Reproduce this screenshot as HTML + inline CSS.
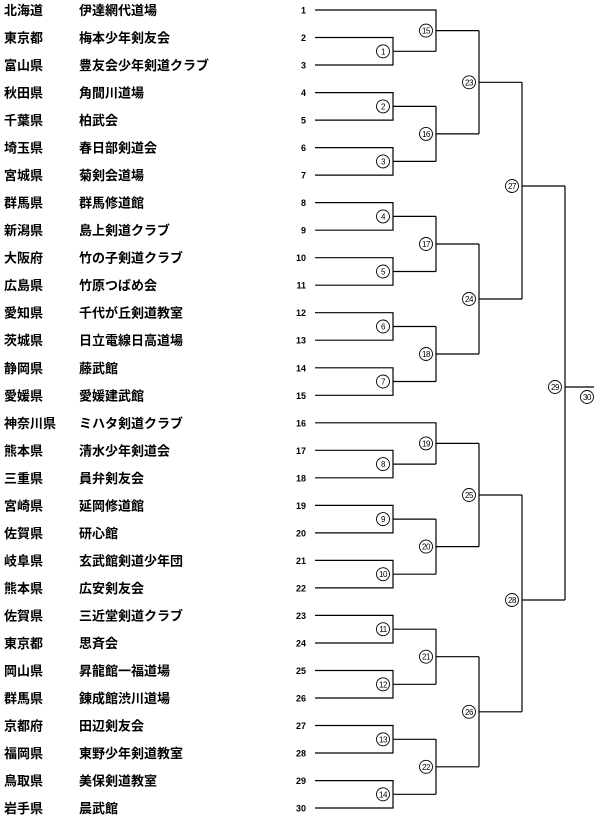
<!DOCTYPE html>
<html><head><meta charset="utf-8"><style>
html,body{margin:0;padding:0;background:#fff;}
svg{display:block;}
.t{font-family:"Liberation Sans","Noto Sans CJK JP",sans-serif;font-size:13px;font-weight:bold;fill:#000;}
.n{font-family:"Liberation Sans",sans-serif;font-size:9px;font-weight:bold;fill:#000;}
.c{font-family:"Liberation Sans",sans-serif;font-size:8px;fill:#000;letter-spacing:-0.5px;}
path{fill:none;stroke:#000;stroke-width:1.2;}
circle{fill:#fff;stroke:#000;stroke-width:0.9;}
</style></head><body>
<svg width="600" height="815" viewBox="0 0 600 815" xmlns="http://www.w3.org/2000/svg">
<g class="t">
<text x="4" y="15">北海道</text><text x="79" y="15">伊達網代道場</text>
<text x="4" y="42.5">東京都</text><text x="79" y="42.5">梅本少年剣友会</text>
<text x="4" y="70">富山県</text><text x="79" y="70">豊友会少年剣道クラブ</text>
<text x="4" y="97.6">秋田県</text><text x="79" y="97.6">角間川道場</text>
<text x="4" y="125.1">千葉県</text><text x="79" y="125.1">柏武会</text>
<text x="4" y="152.6">埼玉県</text><text x="79" y="152.6">春日部剣道会</text>
<text x="4" y="180.1">宮城県</text><text x="79" y="180.1">菊剣会道場</text>
<text x="4" y="207.6">群馬県</text><text x="79" y="207.6">群馬修道館</text>
<text x="4" y="235.2">新潟県</text><text x="79" y="235.2">島上剣道クラブ</text>
<text x="4" y="262.7">大阪府</text><text x="79" y="262.7">竹の子剣道クラブ</text>
<text x="4" y="290.2">広島県</text><text x="79" y="290.2">竹原つばめ会</text>
<text x="4" y="317.7">愛知県</text><text x="79" y="317.7">千代が丘剣道教室</text>
<text x="4" y="345.2">茨城県</text><text x="79" y="345.2">日立電線日高道場</text>
<text x="4" y="372.8">静岡県</text><text x="79" y="372.8">藤武館</text>
<text x="4" y="400.3">愛媛県</text><text x="79" y="400.3">愛媛建武館</text>
<text x="4" y="427.8">神奈川県</text><text x="79" y="427.8">ミハタ剣道クラブ</text>
<text x="4" y="455.3">熊本県</text><text x="79" y="455.3">清水少年剣道会</text>
<text x="4" y="482.8">三重県</text><text x="79" y="482.8">員弁剣友会</text>
<text x="4" y="510.4">宮崎県</text><text x="79" y="510.4">延岡修道館</text>
<text x="4" y="537.9">佐賀県</text><text x="79" y="537.9">研心館</text>
<text x="4" y="565.4">岐阜県</text><text x="79" y="565.4">玄武館剣道少年団</text>
<text x="4" y="592.9">熊本県</text><text x="79" y="592.9">広安剣友会</text>
<text x="4" y="620.4">佐賀県</text><text x="79" y="620.4">三近堂剣道クラブ</text>
<text x="4" y="648">東京都</text><text x="79" y="648">思斉会</text>
<text x="4" y="675.5">岡山県</text><text x="79" y="675.5">昇龍館一福道場</text>
<text x="4" y="703">群馬県</text><text x="79" y="703">錬成館渋川道場</text>
<text x="4" y="730.5">京都府</text><text x="79" y="730.5">田辺剣友会</text>
<text x="4" y="758">福岡県</text><text x="79" y="758">東野少年剣道教室</text>
<text x="4" y="785.6">鳥取県</text><text x="79" y="785.6">美保剣道教室</text>
<text x="4" y="813">岩手県</text><text x="79" y="813">晨武館</text>
</g>
<g class="n" text-anchor="end">
<text x="306" y="13.5">1</text><text x="306" y="41">2</text><text x="306" y="68.5">3</text>
<text x="306" y="96.1">4</text><text x="306" y="123.6">5</text><text x="306" y="151.1">6</text>
<text x="306" y="178.6">7</text><text x="306" y="206.1">8</text><text x="306" y="233.7">9</text>
<text x="306" y="261.2">10</text><text x="306" y="288.7">11</text><text x="306" y="316.2">12</text>
<text x="306" y="343.7">13</text><text x="306" y="371.3">14</text><text x="306" y="398.8">15</text>
<text x="306" y="426.3">16</text><text x="306" y="453.8">17</text><text x="306" y="481.3">18</text>
<text x="306" y="508.9">19</text><text x="306" y="536.4">20</text><text x="306" y="563.9">21</text>
<text x="306" y="591.4">22</text><text x="306" y="618.9">23</text><text x="306" y="646.5">24</text>
<text x="306" y="674">25</text><text x="306" y="701.5">26</text><text x="306" y="729">27</text>
<text x="306" y="756.5">28</text><text x="306" y="784.1">29</text><text x="306" y="811.5">30</text>
</g>
<!-- round 1 -->
<path d="M315 37.5H393V65H315M393 51.3H436"/>
<path d="M315 92.6H393V120.1H315M393 106.4H436"/>
<path d="M315 147.6H393V175.1H315M393 161.4H436"/>
<path d="M315 202.6H393V230.2H315M393 216.4H436"/>
<path d="M315 257.7H393V285.2H315M393 271.5H436"/>
<path d="M315 312.7H393V340.2H315M393 326.5H436"/>
<path d="M315 367.8H393V395.3H315M393 381.5H436"/>
<path d="M315 450.3H393V477.8H315M393 464.1H436"/>
<path d="M315 505.4H393V532.9H315M393 519.1H436"/>
<path d="M315 560.4H393V587.9H315M393 574.2H436"/>
<path d="M315 615.4H393V643H315M393 629.2H436"/>
<path d="M315 670.5H393V698H315M393 684.3H436"/>
<path d="M315 725.5H393V753H315M393 739.3H436"/>
<path d="M315 780.6H393V808H315M393 794.3H436"/>
<!-- round 2 -->
<path d="M315 10H436V51.3M436 30.6H479"/>
<path d="M436 106.4V161.4M436 133.9H479"/>
<path d="M436 216.4V271.5M436 244H479"/>
<path d="M436 326.5V381.5M436 354H479"/>
<path d="M315 422.8H436V464.1M436 443.4H479"/>
<path d="M436 519.1V574.2M436 546.6H479"/>
<path d="M436 629.2V684.3M436 656.7H479"/>
<path d="M436 739.3V794.3M436 766.8H479"/>
<!-- round 3 -->
<path d="M479 30.6V133.9M479 82.3H522"/>
<path d="M479 244V354M479 299H522"/>
<path d="M479 443.4V546.6M479 495H522"/>
<path d="M479 656.7V766.8M479 711.8H522"/>
<!-- round 4 -->
<path d="M522 82.3V299M522 186H565"/>
<path d="M522 495V711.8M522 600H565"/>
<path d="M565 186V600M565 387H594"/>
<g>
<circle cx="383" cy="51.3" r="6.5"/><circle cx="383" cy="106.4" r="6.5"/><circle cx="383" cy="161.4" r="6.5"/>
<circle cx="383" cy="216.4" r="6.5"/><circle cx="383" cy="271.5" r="6.5"/><circle cx="383" cy="326.5" r="6.5"/>
<circle cx="383" cy="381.5" r="6.5"/><circle cx="383" cy="464.1" r="6.5"/><circle cx="383" cy="519.1" r="6.5"/>
<circle cx="383" cy="574.2" r="6.5"/><circle cx="383" cy="629.2" r="6.5"/><circle cx="383" cy="684.3" r="6.5"/>
<circle cx="383" cy="739.3" r="6.5"/><circle cx="383" cy="794.3" r="6.5"/>
<circle cx="426" cy="30.6" r="6.5"/><circle cx="426" cy="133.9" r="6.5"/><circle cx="426" cy="244" r="6.5"/>
<circle cx="426" cy="354" r="6.5"/><circle cx="426" cy="443.4" r="6.5"/><circle cx="426" cy="546.6" r="6.5"/>
<circle cx="426" cy="656.7" r="6.5"/><circle cx="426" cy="766.8" r="6.5"/>
<circle cx="469" cy="82.3" r="6.5"/><circle cx="469" cy="299" r="6.5"/><circle cx="469" cy="495" r="6.5"/>
<circle cx="469" cy="711.8" r="6.5"/>
<circle cx="512" cy="186" r="6.5"/><circle cx="512" cy="600" r="6.5"/>
<circle cx="555" cy="387" r="6.5"/><circle cx="587" cy="397" r="6.5"/>
</g>
<g class="c" text-anchor="middle">
<text x="383" y="54.3">1</text><text x="383" y="109.4">2</text><text x="383" y="164.4">3</text>
<text x="383" y="219.4">4</text><text x="383" y="274.5">5</text><text x="383" y="329.5">6</text>
<text x="383" y="384.5">7</text><text x="383" y="467.1">8</text><text x="383" y="522.1">9</text>
<text x="383" y="577.2">10</text><text x="383" y="632.2">11</text><text x="383" y="687.3">12</text>
<text x="383" y="742.3">13</text><text x="383" y="797.3">14</text>
<text x="426" y="33.6">15</text><text x="426" y="136.9">16</text><text x="426" y="247">17</text>
<text x="426" y="357">18</text><text x="426" y="446.4">19</text><text x="426" y="549.6">20</text>
<text x="426" y="659.7">21</text><text x="426" y="769.8">22</text>
<text x="469" y="85.3">23</text><text x="469" y="302">24</text><text x="469" y="498">25</text>
<text x="469" y="714.8">26</text>
<text x="512" y="189">27</text><text x="512" y="603">28</text>
<text x="555" y="390">29</text><text x="587" y="400">30</text>
</g>
</svg>
</body></html>
